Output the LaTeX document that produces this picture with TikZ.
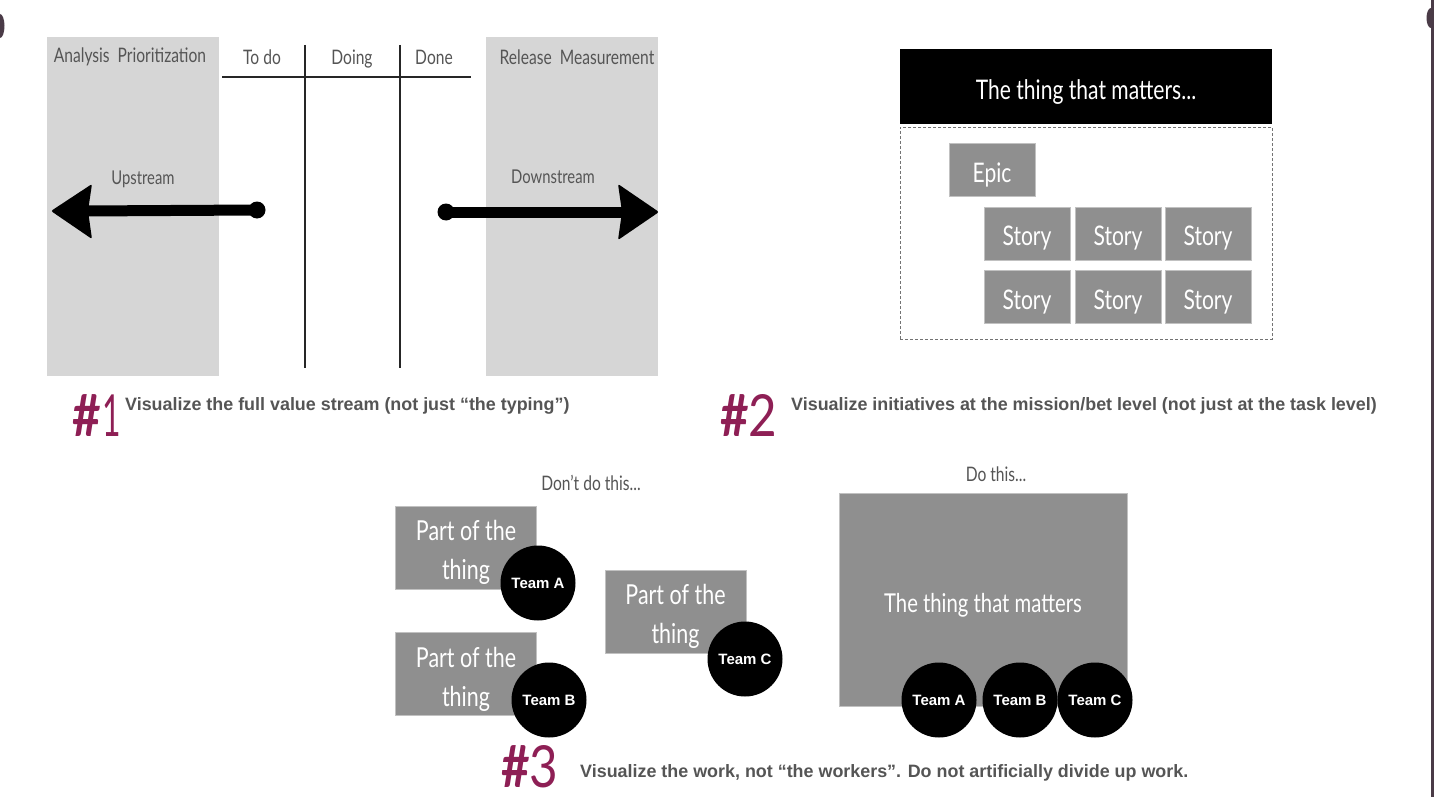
\documentclass[tikz,border=0pt]{standalone}
\usepackage{fontspec}
\setmainfont{Liberation Sans}
\newfontfamily\hand[FakeStretch=0.78]{Lato}
\newfontfamily\numfont[FakeStretch=0.85]{Lato}
\newfontfamily\onefont[FakeStretch=0.55]{Lato}
\definecolor{panel}{HTML}{D6D6D6}
\definecolor{card}{HTML}{8F8F8F}
\definecolor{ink}{HTML}{555555}
\definecolor{plum}{HTML}{8E1F55}
\definecolor{frame}{HTML}{4A3B47}
\newcommand{\dn}[2][5pt]{\raisebox{-#1}[\height][\depth]{#2}}
\newcommand{\twoline}[2]{\raisebox{-5pt}[\height][\depth]{\begin{tabular}{@{}c@{}}#1\\#2\end{tabular}}}
\tikzset{
  panelbox/.style={fill=panel, draw=none, inner sep=0, minimum width=172pt, minimum height=339pt},
  cardbox/.style={fill=card, draw=card!55!white, line width=0.8pt, text=white, inner sep=0,
    font=\hand\fontsize{27}{30}\selectfont},
  storybox/.style={cardbox, minimum width=86pt, minimum height=53pt},
  partbox/.style={cardbox, minimum width=141pt, minimum height=83pt, align=center,
    font=\hand\fontsize{27.5}{39}\selectfont},
  team/.style={circle, fill=black, draw=none, minimum size=75pt, inner sep=0, text=white,
    font=\bfseries\fontsize{15}{17}\selectfont},
  head/.style={text=ink, inner sep=0, font=\hand\fontsize{20}{22}\selectfont},
  boardline/.style={draw=black!85, line width=1.4pt},
  thickarrow/.style={line width=11pt, line cap=round, draw=black},
  number/.style={text=plum, inner sep=0, anchor=base west, font=\numfont\fontsize{58}{60}\selectfont},
  caption/.style={text=ink, inner sep=0, anchor=base west, font=\bfseries\fontsize{17.9}{20}\selectfont}
}
\begin{document}
\begin{tikzpicture}[x=1pt,y=-1pt]
\fill[white] (0,0) rectangle (1434,797);
\useasboundingbox (0,0) rectangle (1434,797);
% screen edge artefacts
\fill[frame] (0,26) ellipse [x radius=4.5pt, y radius=12pt];
\fill[frame] (1431,18) ellipse [x radius=4.5pt, y radius=10pt];
\fill[frame] (1431,0) rectangle (1434,797);

% ===== #1 value stream board =====
\node[panelbox] (up) at (133,206.5) {};
\node[panelbox] (down) at (572,206.5) {};
\node[head] (hup) at (130,57) {Analysis\hspace{8pt}Prioritization};
\node[head] (htodo) at (262,57) {To do};
\node[head] (hdoing) at (352,57) {\dn[2pt]{Doing}};
\node[head] (hdone) at (434,57) {Done};
\node[head] (hdown) at (577,57) {Release\hspace{8pt}Measurement};
\coordinate (hl1) at (222,77); \coordinate (hl2) at (471,77);
\coordinate (v1a) at (305,45); \coordinate (v1b) at (305,368);
\coordinate (v2a) at (400,45); \coordinate (v2b) at (400,368);
\draw[boardline] (hl1) -- (hl2);
\draw[boardline] (v1a) -- (v1b);
\draw[boardline] (v2a) -- (v2b);
\node[head, font=\hand\fontsize{19}{21}\selectfont] (lup) at (143,177) {\dn[2pt]{Upstream}};
\node[head, font=\hand\fontsize{19}{21}\selectfont] (ldown) at (553,177) {Downstream};
% upstream arrow
\coordinate (ut) at (257,210); \coordinate (uh) at (84,211);
\draw[thickarrow] (ut) -- (uh);
\fill (ut) circle (8.5pt);
\fill[rounded corners=2pt] (51,211) -- (92,184) -- (88,211) -- (92,239) -- cycle;
% downstream arrow
\coordinate (dt) at (446,212); \coordinate (dh) at (626,212);
\draw[thickarrow] (dt) -- (dh);
\fill (dt) circle (8.5pt);
\fill[rounded corners=2pt] (659,212) -- (618,184) -- (622,212) -- (618,240) -- cycle;

\node[number] (n1) at (72,436) {\bfseries\#\hspace{2pt}\mdseries\onefont 1};
\node[caption] (c1) at (125,410) {Visualize the full value stream (not just “the typing”)};

% ===== #2 mission level =====
\node[fill=black, inner sep=0, minimum width=372pt, minimum height=75pt, text=white,
  font=\hand\fontsize{27}{30}\selectfont] (thing) at (1086,86.5) {\dn[6pt]{The thing that matters...}};
\node[draw=black!55, densely dashed, line width=0.7pt, inner sep=0, minimum width=372pt,
  minimum height=212pt] (frame2) at (1086,233) {};
\node[storybox] (epic) at (992,169.5) {\dn{Epic}};
\node[storybox] (s11) at (1027,233.5) {\dn{Story}};
\node[storybox] (s12) at (1118,233.5) {\dn{Story}};
\node[storybox] (s13) at (1208,233.5) {\dn{Story}};
\node[storybox] (s21) at (1027,297) {\dn{Story}};
\node[storybox] (s22) at (1118,297) {\dn{Story}};
\node[storybox] (s23) at (1208,297) {\dn{Story}};

\node[number] (n2) at (720,436) {\bfseries\#\mdseries 2};
\node[caption] (c2) at (791,410) {Visualize initiatives at the mission/bet level (not just at the task level)};

% ===== #3 work not workers =====
\node[head] (dont) at (591,483) {Don’t do this...};
\node[partbox] (pa) at (466,547.5) {\twoline{Part of the}{thing}};
\node[team] (ta) at (538,583) {Team A};
\node[partbox] (pb) at (466,674) {\twoline{Part of the}{thing}};
\node[team] (tb) at (549,700) {Team B};
\node[partbox] (pc) at (675.5,611.5) {\twoline{Part of the}{thing}};
\node[team] (tc) at (745,659) {Team C};

\node[head] (do) at (996,474) {Do this...};
\node[cardbox, minimum width=288pt, minimum height=213pt, font=\hand\fontsize{26}{30}\selectfont]
  (big) at (983,599.5) {\dn[6pt]{The thing that matters}};
\node[team] (ba) at (939,700) {Team A};
\node[team] (bb) at (1020,700) {Team B};
\node[team] (bc) at (1095,700) {Team C};

\node[number] (n3) at (501,787) {\bfseries\#\mdseries 3};
\node[caption] (c3) at (580,777) {Visualize the work, not “the workers”. Do not artificially divide up work.};
\end{tikzpicture}
\end{document}
